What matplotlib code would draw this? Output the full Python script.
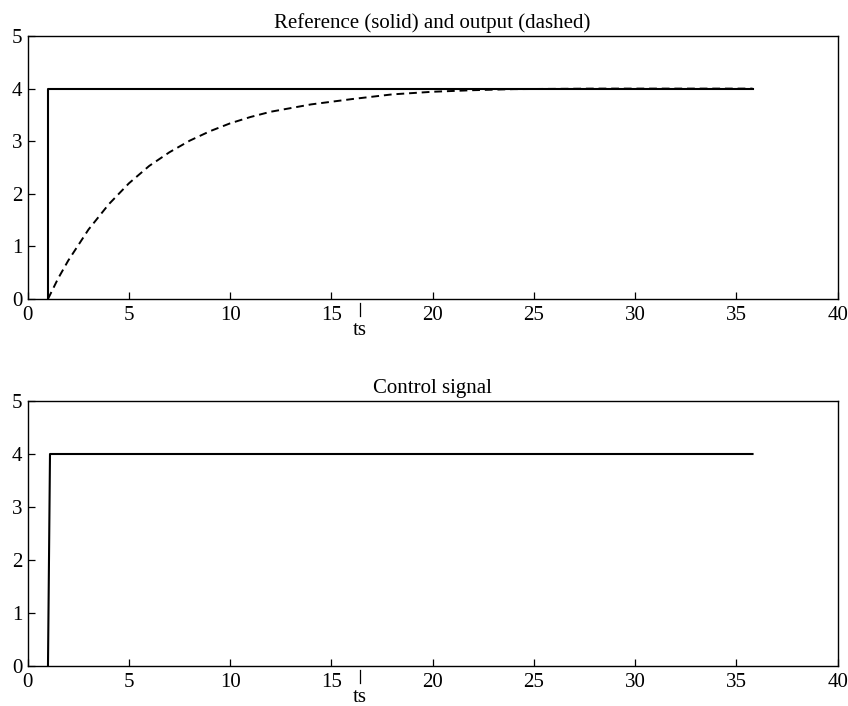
import matplotlib

matplotlib.use("Agg")

import matplotlib.pyplot as plt

# ── Data ────────────────────────────────────────────────────────────────────

ref_t = [1, 1, 35.8]
ref_y = [0, 4, 4]

out_t = [1, 1.5, 2, 3, 4, 5, 6, 7, 8, 9, 10, 11, 12, 14, 16, 18, 20, 22, 24, 28, 32, 35.8]
out_y = [0, 0.39, 0.73, 1.32, 1.80, 2.20, 2.53, 2.79, 3.01, 3.19, 3.34, 3.46, 3.56,
         3.70, 3.80, 3.89, 3.94, 3.97, 3.99, 4.0, 4.0, 4.0]

ctrl_t = [1, 1.1, 35.8]
ctrl_u = [0, 4, 4]

ts = 16.4
xticks = [0, 5, 10, 15, 20, 25, 30, 35, 40]
yticks = [0, 1, 2, 3, 4, 5]

plt.rcParams["font.family"] = ["Liberation Serif", "DejaVu Serif"]
plt.rcParams["font.size"] = 15

fig = plt.figure(figsize=(8.48, 7.06), dpi=100)
ax1 = fig.add_axes([0.0327, 0.5765, 0.955, 0.3725])
ax2 = fig.add_axes([0.0327, 0.0567, 0.955, 0.3753])


def style_axes(ax, title):
    ax.set_xlim(0, 40)
    ax.set_ylim(0, 5)
    ax.set_xticks(xticks)
    ax.set_yticks(yticks)
    ax.tick_params(direction="in", length=5, width=0.9, labelsize=15,
                   top=False, right=False)
    ax.tick_params(axis="x", pad=5)
    ax.tick_params(axis="y", pad=4)
    for s in ax.spines.values():
        s.set_linewidth(1.0)
    ax.set_title(title, fontsize=15, pad=6)
    # ts marker below the axis
    ax.plot([ts, ts], [-0.014, -0.066], color="black", lw=0.9,
            transform=ax.get_xaxis_transform(), clip_on=False)
    ax.annotate("ts", xy=(ts, 0), xycoords=("data", "axes fraction"),
                xytext=(0, -36), textcoords="offset pixels",
                ha="center", va="baseline", fontsize=15)


ax1.plot(ref_t, ref_y, color="black", lw=1.5)
ax1.plot(out_t, out_y, color="black", lw=1.4, dashes=(4, 2.5))
style_axes(ax1, "Reference (solid) and output (dashed)")

ax2.plot(ctrl_t, ctrl_u, color="black", lw=1.5)
style_axes(ax2, "Control signal")

fig.savefig("out.png", dpi=100)
